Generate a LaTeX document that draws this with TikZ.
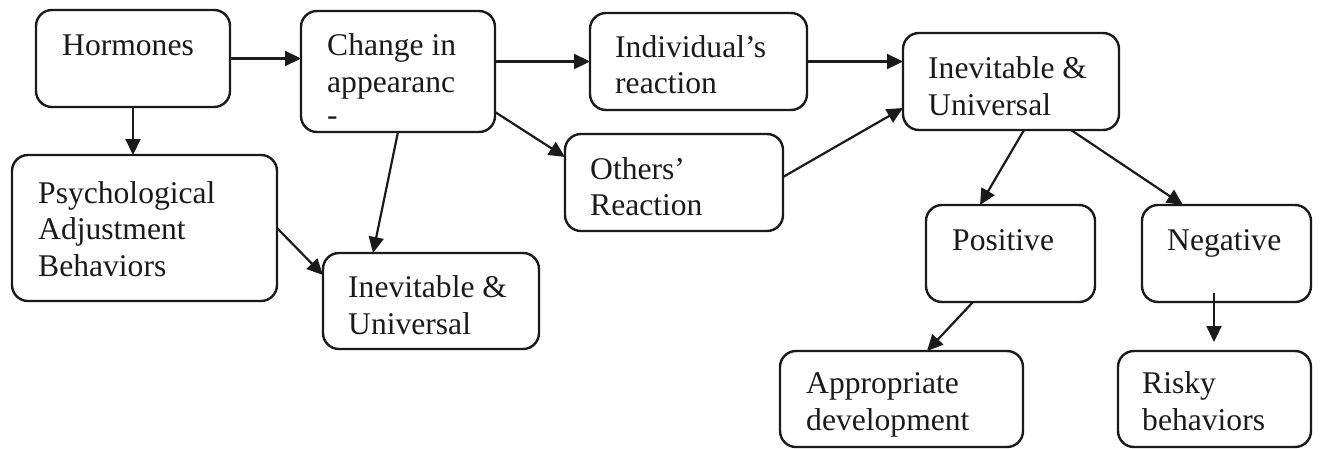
\documentclass[tikz,border=0pt]{standalone}
\usepackage{fontspec}
\setmainfont{Liberation Serif}
\usetikzlibrary{arrows.meta,calc}
\definecolor{ink}{HTML}{1A1A1A}
\tikzset{
  box/.style={draw=ink, line width=2.4pt, rounded corners=16pt, inner sep=0pt, outer sep=0pt},
  lbl/.style={anchor=base west, inner sep=0pt, text=ink, font=\fontsize{31.6}{37}\selectfont},
  conn/.style={draw=ink, line width=2.2pt, -{Triangle[length=16pt,width=15pt]}}
}
\begin{document}
\begin{tikzpicture}[x=1pt,y=-1pt]
\useasboundingbox (0,0) rectangle (1320,448);
% boxes
\node[box, minimum width=194pt, minimum height=97pt] (hormones) at (133,58.5) {};
\node[box, minimum width=194pt, minimum height=121pt] (change) at (398,71.5) {};
\node[box, minimum width=217pt, minimum height=97pt] (indiv) at (698.5,61.5) {};
\node[box, minimum width=216pt, minimum height=97pt] (inevT) at (1011,81.5) {};
\node[box, minimum width=265pt, minimum height=146pt] (psych) at (144.5,228) {};
\node[box, minimum width=216pt, minimum height=96pt] (inevB) at (431,301) {};
\node[box, minimum width=218pt, minimum height=97pt] (others) at (674,182.5) {};
\node[box, minimum width=169pt, minimum height=97pt] (positive) at (1010.5,253.5) {};
\node[box, minimum width=169pt, minimum height=97pt] (negative) at (1226.5,253.5) {};
\node[box, minimum width=243pt, minimum height=96pt] (approp) at (901.5,399) {};
\node[box, minimum width=193pt, minimum height=96pt] (risky) at (1214.5,399) {};
% labels
\node[lbl] (tHorm) at (62,55) {Hormones};
\node[lbl] (tChA) at (327,55) {Change in};
\node[lbl] (tChB) at (327,92) {appearanc};
\node[lbl] (tChC) at (327,125) {-};
\node[lbl] (tIndA) at (615,57) {Individual’s};
\node[lbl] (tIndB) at (615,93) {reaction};
\node[lbl] (tITA) at (928,78) {Inevitable \&};
\node[lbl] (tITB) at (928,115) {Universal};
\node[lbl] (tPsA) at (38,203) {Psychological};
\node[lbl] (tPsB) at (38,239) {Adjustment};
\node[lbl] (tPsC) at (38,276) {Behaviors};
\node[lbl] (tIBA) at (348,297) {Inevitable \&};
\node[lbl] (tIBB) at (348,334) {Universal};
\node[lbl] (tOtA) at (590,179) {Others’};
\node[lbl] (tOtB) at (590,215) {Reaction};
\node[lbl] (tPos) at (952,250) {Positive};
\node[lbl] (tNeg) at (1167,250) {Negative};
\node[lbl] (tApA) at (806,393) {Appropriate};
\node[lbl] (tApB) at (806,430) {development};
\node[lbl] (tRiA) at (1142,393) {Risky};
\node[lbl] (tRiB) at (1142,430) {behaviors};
% connectors
\draw[conn] (hormones.east) -- (hormones.east -| change.west);
\draw[conn] (hormones.south) -- (hormones.south |- psych.north);
\draw[conn] (change.east |- indiv.west) -- (indiv.west);
\draw[conn] ($(change.south east)+(0,-20)$) -- ($(others.north west)+(0,23)$);
\draw[conn] (change.south) -- ($(inevB.north west)+(50,0)$);
\draw[conn] (psych.east) -- ($(inevB.north west)+(0,22)$);
\draw[conn] (indiv.east) -- (indiv.east -| inevT.west);
\draw[conn] ($(others.north east)+(0,43)$) -- ($(inevT.south west)+(0,-22)$);
\draw[conn] ($(inevT.south west)+(121,0)$) -- ($(positive.north west)+(54,0)$);
\draw[conn] ($(inevT.south west)+(168,0)$) -- ($(negative.north west)+(41,0)$);
\draw[conn] ($(positive.south west)+(47,0)$) -- ($(approp.north west)+(147,0)$);
\draw[conn] ($(negative.south west)+(72,-9)$) -- ($(risky.north west)+(96,-9)$);
\end{tikzpicture}
\end{document}
